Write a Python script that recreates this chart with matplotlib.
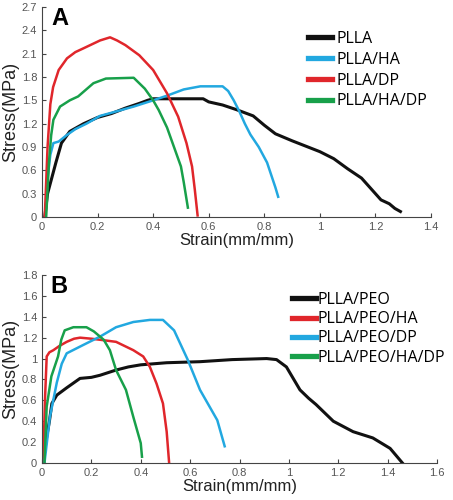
import matplotlib.pyplot as plt
import numpy as np

# panel A data (strain mm/mm, stress MPa)
pla_x = [0.01, 0.015, 0.02, 0.035, 0.05, 0.07, 0.1, 0.15, 0.2, 0.25, 0.3, 0.35, 0.38, 0.4, 0.5, 0.58, 0.6, 0.65, 0.7, 0.76, 0.8, 0.84, 0.9, 0.95, 1.0, 1.05, 1.1, 1.15, 1.17, 1.2, 1.22, 1.25, 1.27, 1.29]
pla_y = [0.0, 0.15, 0.3, 0.5, 0.7, 0.95, 1.1, 1.2, 1.28, 1.33, 1.4, 1.46, 1.5, 1.52, 1.52, 1.52, 1.48, 1.44, 1.38, 1.3, 1.18, 1.07, 0.98, 0.91, 0.84, 0.75, 0.62, 0.5, 0.42, 0.3, 0.22, 0.17, 0.11, 0.07]

ha_x = [0.012, 0.02, 0.03, 0.041, 0.06, 0.088, 0.12, 0.16, 0.209, 0.26, 0.33, 0.4, 0.45, 0.51, 0.57, 0.65, 0.67, 0.69, 0.71, 0.73, 0.75, 0.78, 0.81, 0.84, 0.85]
ha_y = [0.0, 0.5, 0.8, 0.95, 0.97, 1.05, 1.13, 1.2, 1.3, 1.35, 1.42, 1.5, 1.56, 1.64, 1.68, 1.68, 1.62, 1.5, 1.36, 1.2, 1.06, 0.9, 0.7, 0.38, 0.26]

dp_x = [0.01, 0.02, 0.03, 0.04, 0.06, 0.09, 0.12, 0.15, 0.209, 0.245, 0.27, 0.3, 0.35, 0.4, 0.45, 0.49, 0.52, 0.54, 0.55, 0.56]
dp_y = [0.0, 0.9, 1.45, 1.67, 1.89, 2.04, 2.12, 2.17, 2.27, 2.31, 2.27, 2.21, 2.08, 1.89, 1.59, 1.29, 0.95, 0.65, 0.35, 0.02]

hadp_x = [0.015, 0.025, 0.033, 0.041, 0.065, 0.1, 0.13, 0.185, 0.23, 0.33, 0.35, 0.37, 0.4, 0.42, 0.45, 0.47, 0.5, 0.51, 0.525]
hadp_y = [0.0, 0.7, 1.05, 1.25, 1.42, 1.5, 1.55, 1.72, 1.78, 1.79, 1.72, 1.65, 1.5, 1.375, 1.15, 0.95, 0.65, 0.45, 0.12]

# panel B data
peo_x = [0.005, 0.01, 0.019, 0.03, 0.04, 0.06, 0.1, 0.154, 0.2, 0.235, 0.3, 0.35, 0.4, 0.505, 0.64, 0.77, 0.91, 0.95, 0.99, 1.02, 1.045, 1.08, 1.11, 1.18, 1.26, 1.34, 1.41, 1.46]
peo_y = [0.0, 0.1, 0.25, 0.4, 0.57, 0.65, 0.72, 0.81, 0.82, 0.84, 0.89, 0.92, 0.94, 0.96, 0.97, 0.99, 1.0, 0.99, 0.92, 0.8, 0.7, 0.62, 0.56, 0.4, 0.3, 0.24, 0.14, 0.0]

peoha_x = [0.005, 0.012, 0.019, 0.03, 0.046, 0.07, 0.1, 0.13, 0.154, 0.2, 0.235, 0.3, 0.37, 0.41, 0.437, 0.464, 0.49, 0.505, 0.515]
peoha_y = [0.0, 0.6, 1.02, 1.06, 1.08, 1.12, 1.16, 1.19, 1.2, 1.19, 1.18, 1.16, 1.08, 1.02, 0.92, 0.76, 0.57, 0.3, 0.0]

peodp_x = [0.01, 0.02, 0.032, 0.06, 0.08, 0.1, 0.167, 0.235, 0.3, 0.37, 0.437, 0.49, 0.535, 0.59, 0.64, 0.71, 0.74]
peodp_y = [0.0, 0.2, 0.44, 0.77, 0.95, 1.05, 1.13, 1.21, 1.3, 1.35, 1.37, 1.37, 1.27, 0.99, 0.7, 0.41, 0.16]

peohadp_x = [0.01, 0.019, 0.038, 0.065, 0.078, 0.092, 0.127, 0.18, 0.21, 0.25, 0.275, 0.3, 0.34, 0.37, 0.4, 0.405]
peohadp_y = [0.0, 0.54, 0.83, 1.02, 1.18, 1.27, 1.3, 1.3, 1.26, 1.18, 1.08, 0.89, 0.7, 0.44, 0.19, 0.06]

c_black = "#111111"
c_blue = "#22a8e0"
c_red = "#e0262b"
c_green = "#18a04a"

fig = plt.figure(figsize=(4.53, 5.0), dpi=100)

def style(ax, xmax, ymax, ystep):
    ax.set_xlim(0, xmax)
    ax.set_ylim(0, ymax)
    ax.set_xticks(np.arange(0, xmax + 0.01, 0.2))
    ax.set_yticks(np.arange(0, ymax + 0.01, ystep))
    ax.spines["top"].set_visible(False)
    ax.spines["right"].set_visible(False)
    for s in ["left", "bottom"]:
        ax.spines[s].set_color("#444444")
        ax.spines[s].set_linewidth(0.8)
    ax.tick_params(direction="in", length=3, width=0.8, colors="#444444",
                   labelsize=8, labelcolor="#555555")
    ax.set_xlabel("Strain(mm/mm)", fontsize=12, family="Liberation Sans", color="#222222", labelpad=1)
    ax.set_ylabel("Stress(MPa)", fontsize=13, family="Liberation Sans", color="#222222", labelpad=2)

# panel A
ax1 = fig.add_axes([42/453, 1-217/500, 389/453, 210/500])
ax1.plot(pla_x, pla_y, color=c_black, lw=2.2, label="PLLA")
ax1.plot(ha_x, ha_y, color=c_blue, lw=1.8, label="PLLA/HA")
ax1.plot(dp_x, dp_y, color=c_red, lw=1.8, label="PLLA/DP")
ax1.plot(hadp_x, hadp_y, color=c_green, lw=1.8, label="PLLA/HA/DP")
style(ax1, 1.4, 2.7, 0.3)
ax1.set_yticklabels(["0", "0.3", "0.6", "0.9", "1.2", "1.5", "1.8", "2.1", "2.4", "2.7"], family="Liberation Sans")
ax1.set_xticklabels(["0", "0.2", "0.4", "0.6", "0.8", "1", "1.2", "1.4"], family="Liberation Sans")
ax1.text(0.025, 1.0, "A", transform=ax1.transAxes, fontsize=17, fontweight="bold",
         family="Liberation Sans", va="top", ha="left")
leg1 = ax1.legend(loc="upper left", bbox_to_anchor=(308/453, 1-31/500), bbox_transform=fig.transFigure,
                  frameon=False, borderpad=0, borderaxespad=0, handlelength=1.5, handletextpad=0.3,
                  labelspacing=0.3, prop={"family": "Open Sans", "size": 11.5})
for h in leg1.get_lines():
    h.set_linewidth(3.8)

# panel B
ax2 = fig.add_axes([42/453, 1-463/500, 395/453, 188/500])
ax2.plot(peo_x, peo_y, color=c_black, lw=2.2, label="PLLA/PEO")
ax2.plot(peoha_x, peoha_y, color=c_red, lw=1.8, label="PLLA/PEO/HA")
ax2.plot(peodp_x, peodp_y, color=c_blue, lw=1.8, label="PLLA/PEO/DP")
ax2.plot(peohadp_x, peohadp_y, color=c_green, lw=1.8, label="PLLA/PEO/HA/DP")
style(ax2, 1.6, 1.8, 0.2)
ax2.set_yticklabels(["0", "0.2", "0.4", "0.6", "0.8", "1", "1.2", "1.4", "1.6", "1.8"], family="Liberation Sans")
ax2.set_xticklabels(["0", "0.2", "0.4", "0.6", "0.8", "1", "1.2", "1.4", "1.6"], family="Liberation Sans")
ax2.text(0.02, 1.0, "B", transform=ax2.transAxes, fontsize=17, fontweight="bold",
         family="Liberation Sans", va="top", ha="left")
leg2 = ax2.legend(loc="upper left", bbox_to_anchor=(292/453, 1-292/500), bbox_transform=fig.transFigure,
                  frameon=False, borderpad=0, borderaxespad=0, handlelength=1.5, handletextpad=0.12,
                  labelspacing=0.2, prop={"family": "Open Sans", "size": 11.5})
for h in leg2.get_lines():
    h.set_linewidth(3.8)

fig.savefig("out.png", dpi=100)
